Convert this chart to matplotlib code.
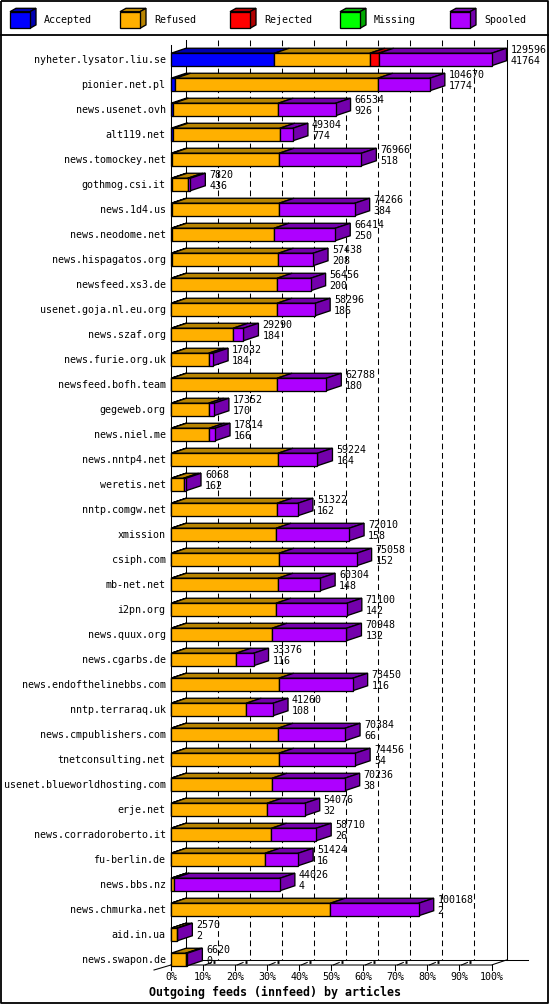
import matplotlib
matplotlib.use("Agg")
import matplotlib.pyplot as plt
from matplotlib.patches import Polygon

# ---------------- data ----------------
hosts = ["nyheter.lysator.liu.se", "pionier.net.pl", "news.usenet.ovh", "alt119.net",
         "news.tomockey.net", "gothmog.csi.it", "news.1d4.us", "news.neodome.net",
         "news.hispagatos.org", "newsfeed.xs3.de", "usenet.goja.nl.eu.org", "news.szaf.org",
         "news.furie.org.uk", "newsfeed.bofh.team", "gegeweb.org", "news.niel.me",
         "news.nntp4.net", "weretis.net", "nntp.comgw.net", "xmission", "csiph.com",
         "mb-net.net", "i2pn.org", "news.quux.org", "news.cgarbs.de",
         "news.endofthelinebbs.com", "nntp.terraraq.uk", "news.cmpublishers.com",
         "tnetconsulting.net", "usenet.blueworldhosting.com", "erje.net",
         "news.corradoroberto.it", "fu-berlin.de", "news.bbs.nz", "news.chmurka.net",
         "aid.in.ua", "news.swapon.de"]
totals = [129596, 104670, 66534, 49304, 76966, 7820, 74266, 66414, 57438, 56456, 58296,
          29290, 17032, 62788, 17352, 17814, 59224, 6068, 51322, 72010, 75058, 60304,
          71100, 70948, 33376, 73450, 41260, 70384, 74456, 70236, 54076, 58710, 51424,
          44026, 100168, 2570, 6620]
accepted = [41764, 1774, 926, 774, 518, 436, 384, 250, 208, 200, 186, 184, 184, 180, 170,
            166, 164, 162, 162, 158, 152, 148, 142, 132, 116, 116, 108, 66, 54, 38, 32, 26,
            16, 4, 2, 2, 0]
refused = [38600, 81800, 42400, 43200, 43200, 6300, 43300, 41400, 43200, 42700, 42700,
           24900, 15000, 42700, 15000, 15300, 43100, 4900, 42700, 42300, 43500, 43100,
           42300, 40700, 26200, 43400, 30300, 43200, 43500, 40800, 38800, 40600, 38000,
           1300, 64400, 2250, 5900]
rejected = [3600] + [0] * 36
missing = [0] * 37
spooled = [45632, 21096, 23208, 5330, 33248, 1084, 30582, 24764, 14030, 13556, 15410,
           4206, 1848, 19908, 2182, 2348, 15960, 1006, 8460, 29552, 31406, 17056, 28658,
           30116, 7060, 29934, 10852, 27118, 30902, 29398, 15244, 18084, 13408, 42722,
           35766, 318, 720]
series_names = ["Accepted", "Refused", "Rejected", "Missing", "Spooled"]
tick_labels = ["0%", "10%", "20%", "30%", "40%", "50%", "60%", "70%", "80%", "90%", "100%"]
xlabel = "Outgoing feeds (innfeed) by articles"

front_cols = ["#0000FF", "#FFB000", "#FF0000", "#00FF00", "#AE00FF"]
dark_cols = ["#0000B0", "#B88400", "#B00000", "#00A800", "#7400AC"]

# ---------------- layout helpers (pixel -> data) ----------------
W, H = 550, 1005
X0, PXPCT = 171.0, 3.205      # 0% at pixel 171, 3.205 px per percent
Y0, PXROW = 59.5, 25.0        # first row centre, row pitch


def X(px):
    return (px - X0) / PXPCT


def Y(py):
    return (py - Y0) / PXROW


DX = 15 / PXPCT
DY = -5 / PXROW
BH = 0.5

fig = plt.figure(figsize=(W / 100, H / 100), dpi=100)
ax = fig.add_axes([0, 0, 1, 1])
ax.set_xlim(X(0), X(W))
ax.set_ylim(Y(H), Y(0))
ax.axis("off")

LW = 0.75
BLW = 0.95
MONO = "DejaVu Sans Mono"
FS = 7.2

# outer border and legend separator
ax.plot([X(1), X(548), X(548), X(1), X(1)], [Y(1), Y(1), Y(1003), Y(1003), Y(1)],
        color="black", lw=1.3, solid_capstyle="butt", zorder=10)
ax.plot([X(1), X(548)], [Y(35), Y(35)], color="black", lw=1.3, zorder=10)

# legend cubes
for k, name in enumerate(series_names):
    lx = 10 + 110 * k
    x0, x1 = X(lx), X(lx + 20)
    y0, y1 = Y(11.7), Y(28.3)
    ddx, ddy = 6 / PXPCT, -3.4 / PXROW
    ax.add_patch(Polygon([(x0, y0), (x1, y0), (x1 + ddx, y0 + ddy), (x0 + ddx, y0 + ddy)],
                         closed=True, fc=dark_cols[k], ec="black", lw=BLW, zorder=5))
    ax.add_patch(Polygon([(x1, y0), (x1 + ddx, y0 + ddy), (x1 + ddx, y1 + ddy), (x1, y1)],
                         closed=True, fc=dark_cols[k], ec="black", lw=BLW, zorder=5))
    ax.add_patch(Polygon([(x0, y0), (x1, y0), (x1, y1), (x0, y1)],
                         closed=True, fc=front_cols[k], ec="black", lw=BLW, zorder=6))
    ax.text(X(lx + 34), Y(20), name, fontsize=FS, family=MONO, ha="left", va="center")

# back wall frame and gridlines
ytop_b, ybot_b = Y(40), Y(960)
ax.plot([0 + DX, 0 + DX], [ytop_b, ybot_b], color="black", lw=LW, zorder=1)
ax.plot([100 + DX, 100 + DX], [ytop_b, ybot_b], color="black", lw=LW, zorder=1)
ax.plot([0, 0], [Y(45), Y(965)], color="black", lw=LW, zorder=1)
for k in range(1, 10):
    ax.plot([10 * k + DX, 10 * k + DX], [ytop_b, ybot_b], color="black", lw=LW,
            dashes=(5.5, 3.5), zorder=1)

# floor
ax.plot([0, 100, 100 + DX], [Y(965), Y(965), Y(960)], color="black", lw=LW, zorder=1)
ax.plot([X(154), 0], [Y(970), Y(965)], color="black", lw=LW, zorder=1)
ax.plot([0 + DX, X(528)], [Y(960), Y(960)], color="black", lw=LW, zorder=1)
for k in range(11):
    xk = 10 * k
    ax.plot([xk, xk], [Y(965), Y(970)], color="black", lw=LW, zorder=1)
    if 1 <= k <= 9:
        ax.plot([xk + X(171 + 2), xk + X(171 + 8)], [Y(965), Y(962.5)], color="black",
                lw=LW, zorder=1)
        ax.plot([xk + X(171 + 10), xk + X(171 + 12)], [Y(961.5), Y(961.5)], color="black",
                lw=2.0, zorder=1, solid_capstyle="butt")
    ax.text(xk, Y(977), tick_labels[k], fontsize=FS, family=MONO, ha="center", va="center")

ax.text(X(275), Y(992), xlabel, fontsize=8.4, family=MONO, fontweight="bold",
        ha="center", va="center")

# bars
scale = 100.0 / max(totals)
segments = [accepted, refused, rejected, missing, spooled]
for i, host in enumerate(hosts):
    left = 0.0
    last_right = 0.0
    last_k = None
    ytop = i - BH / 2
    for k, ser in enumerate(segments):
        w = ser[i] * scale
        if w <= 0:
            continue
        ax.barh(i, w, left=left, height=BH, color=front_cols[k], edgecolor="black",
                linewidth=BLW, zorder=4)
        ax.add_patch(Polygon([(left, ytop), (left + w, ytop), (left + w + DX, ytop + DY),
                              (left + DX, ytop + DY)], closed=True, fc=dark_cols[k],
                             ec="black", lw=BLW, zorder=3))
        left += w
        last_right = left
        last_k = k
    if last_k is not None:
        ax.add_patch(Polygon([(last_right, ytop), (last_right + DX, ytop + DY),
                              (last_right + DX, ytop + BH + DY), (last_right, ytop + BH)],
                             closed=True, fc=dark_cols[last_k], ec="black", lw=BLW, zorder=3))
    ax.text(X(165.5), i, host, fontsize=FS, family=MONO, ha="right", va="center")
    lx = last_right + DX + 4 / PXPCT
    ax.text(lx, i + Y(Y0 - 9.5), f"{totals[i]}", fontsize=FS, family=MONO,
            ha="left", va="center", zorder=6)
    ax.text(lx, i + Y(Y0 + 1.3), f"{accepted[i]}", fontsize=FS, family=MONO,
            ha="left", va="center", zorder=6)

fig.savefig("out.png", dpi=100, facecolor="white")
